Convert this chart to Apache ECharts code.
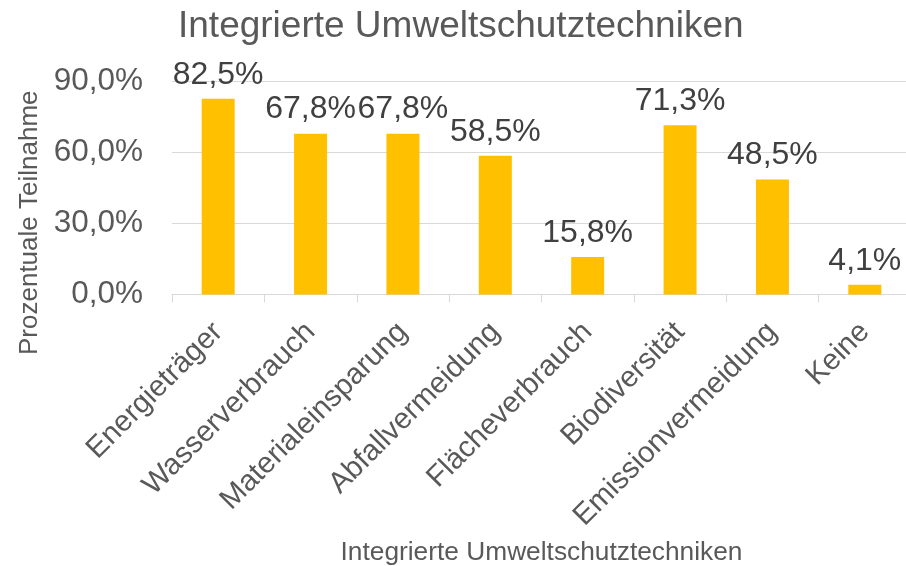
<!DOCTYPE html>
<html>
<head>
<meta charset="utf-8">
<script src="https://cdn.jsdelivr.net/npm/echarts@6/dist/echarts.min.js"></script>
<style>html,body{margin:0;padding:0;background:#fff}#c{width:906px;height:566px}</style>
</head>
<body>
<div id="c"></div>
<script>
const categories = ['Energieträger','Wasserverbrauch','Materialeinsparung','Abfallvermeidung','Flächeverbrauch','Biodiversität','Emissionvermeidung','Keine'];
const values = [82.5, 67.8, 67.8, 58.5, 15.8, 71.3, 48.5, 4.1];
const yTicks = [0, 30, 60, 90];
const titleText = 'Integrierte Umweltschutztechniken';
const xName = 'Integrierte Umweltschutztechniken';
const yName = 'Prozentuale Teilnahme';

const fmt = v => v.toFixed(1).replace('.', ',') + '%';
const FONT = '"Liberation Sans", Arial, sans-serif';
const chart = echarts.init(document.getElementById('c'));
chart.setOption({
  backgroundColor: '#ffffff',
  animation: false,
  title: {
    text: titleText, left: 173, top: 3,
    textStyle: { fontFamily: FONT, fontSize: 37, fontWeight: 'normal', color: '#595959' }
  },
  grid: { left: 172, width: 739, top: 81, bottom: 271.5, containLabel: false, outerBoundsMode: 'none' },
  xAxis: {
    type: 'category', data: categories,
    name: xName, nameLocation: 'middle', nameGap: 245,
    nameTextStyle: { fontFamily: FONT, fontSize: 26.3, color: '#595959' },
    axisLine: { show: true, lineStyle: { color: '#d9d9d9', width: 1 } },
    axisTick: { show: true, length: 8, lineStyle: { color: '#d9d9d9' } },
    axisLabel: { rotate: 45, interval: 0, margin: 33, fontFamily: FONT, fontSize: 29.5, color: '#595959' }
  },
  yAxis: {
    type: 'value', min: yTicks[0], max: yTicks[yTicks.length - 1], interval: 30,
    name: yName, nameLocation: 'middle', nameGap: 128, nameRotate: 90,
    nameTextStyle: { fontFamily: FONT, fontSize: 26, color: '#595959', padding: [0, 70, 0, 0] },
    axisLine: { show: false }, axisTick: { show: false },
    axisLabel: { formatter: fmt, margin: 29, fontFamily: FONT, fontSize: 31.5, color: '#595959' },
    splitLine: { lineStyle: { color: '#d9d9d9', width: 1 } }
  },
  series: [{
    type: 'bar', data: values, barWidth: 33,
    itemStyle: { color: '#FFC000' },
    label: { show: true, position: 'top', distance: 8, formatter: p => fmt(p.value),
      fontFamily: FONT, fontSize: 32, color: '#404040' }
  }]
});
</script>
</body>
</html>
